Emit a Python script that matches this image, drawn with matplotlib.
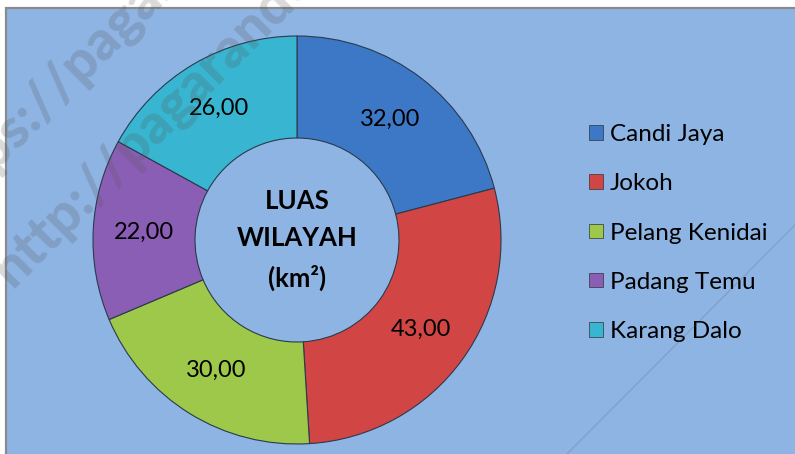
import matplotlib
matplotlib.use("Agg")
import matplotlib.pyplot as plt
from matplotlib.patches import Rectangle
from matplotlib.lines import Line2D
import numpy as np

categories = ["Candi Jaya", "Jokoh", "Pelang Kenidai", "Padang Temu", "Karang Dalo"]
values = [32, 43, 30, 22, 26]
value_labels = ["32,00", "43,00", "30,00", "22,00", "26,00"]
colors = ["#3D78C7", "#D24545", "#9DC84A", "#8A5EB4", "#38B5D0"]
center_title = "LUAS\nWILAYAH\n(km²)"

W, H = 795, 454
fig = plt.figure(figsize=(W / 100, H / 100), dpi=100)
fig.patch.set_facecolor("white")

# chart panel
panel = Rectangle((6 / W, -0.01), 1.0, (H - 8) / H + 0.01, transform=fig.transFigure,
                  facecolor="#8EB4E3", edgecolor="#8a8a8a", linewidth=1.6, zorder=-5)
fig.patches.append(panel)

cx, cy, R = 297, 240, 204
ax = fig.add_axes([(cx - R) / W, (H - cy - R) / H, 2 * R / W, 2 * R / H], zorder=2)
ax.set_facecolor("none")
wedges, _ = ax.pie(values, colors=colors, startangle=90, counterclock=False,
                   radius=1.0, wedgeprops=dict(width=0.5, edgecolor="#2a3a4a", linewidth=0.8))
ax.set_xlim(-1, 1)
ax.set_ylim(-1, 1)
ax.set_aspect("equal")
ax.axis("off")

total = sum(values)
start = 90.0
for v, lab in zip(values, value_labels):
    mid = start - v / total * 360 / 2
    start -= v / total * 360
    r = 0.75
    ax.text(r * np.cos(np.radians(mid)), r * np.sin(np.radians(mid)), lab,
            ha="center", va="center", fontsize=17, family="Lato", color="black")

ax.text(0, 0, center_title, ha="center", va="center", fontsize=18.5, fontweight="bold",
        family="Lato", linespacing=1.65, color="black")

# legend
handles = [Rectangle((0, 0), 1, 1, facecolor=c, edgecolor="#333333", linewidth=0.5) for c in colors]
leg = fig.legend(handles, categories, loc="upper left", bbox_to_anchor=(577 / W, (H - 112) / H),
                 frameon=False, prop=dict(family="Lato", size=17.5), handlelength=0.55,
                 handleheight=0.55, handletextpad=0.3, labelspacing=1.16, borderpad=0)
leg.set_zorder(3)

# faint watermark overlay
wm = dict(rotation=45, rotation_mode="anchor", fontsize=40, fontweight=900, family="Lato",
          color="#555555", alpha=0.22, ha="left", va="baseline", zorder=10)
fig.text(-58 / W, (H - 222) / H, "https://pagarandesa", **wm)
fig.text(12 / W, (H - 288) / H, "http://pagarandesa", **wm)
fig.lines.append(Line2D([567 / W, 1.0], [0.0, (H - 225) / H], transform=fig.transFigure,
                        color="#555555", alpha=0.2, linewidth=1.0, zorder=10))

fig.savefig("out.png", dpi=100)
